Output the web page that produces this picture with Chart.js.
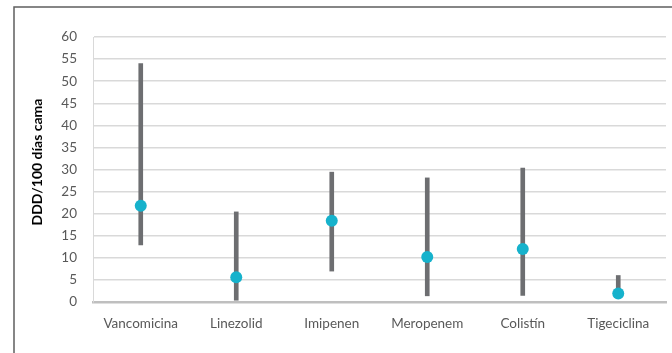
<!DOCTYPE html>
<html>
<head>
<meta charset="utf-8">
<script src="https://cdn.jsdelivr.net/npm/chart.js@4/dist/chart.umd.min.js"></script>
<style>
  html, body { margin: 0; padding: 0; background: #ffffff; overflow: hidden; }
  #wrap { width: 672px; height: 353px; position: relative; }
</style>
</head>
<body>
<div id="wrap"><canvas id="c" width="672" height="353"></canvas></div>
<script>
// Antibiotic consumption (DDD per 100 bed-days): range (min–max) and central value
const categories = ['Vancomicina', 'Linezolid', 'Imipenen', 'Meropenem', 'Colistín', 'Tigeciclina'];
const rangeLow   = [12.9, 0.4, 7.0, 1.4, 1.5, 1.9];
const rangeHigh  = [54.0, 20.4, 29.4, 28.1, 30.3, 6.0];
const central    = [21.8, 5.6, 18.4, 10.2, 12.0, 1.9];
const yTicks     = [0, 5, 10, 15, 20, 25, 30, 35, 40, 45, 50, 55, 60];
const yTitle     = 'DDD/100 días cama';

const ranges = categories.map((_, i) => [rangeLow[i], rangeHigh[i]]);

// Outer frame around the figure
const framePlugin = {
  id: 'frame',
  beforeDraw(chart) {
    const ctx = chart.ctx;
    ctx.save();
    ctx.strokeStyle = '#5f5f5f';
    ctx.lineWidth = 1.5;
    ctx.strokeRect(14, 7, 720, 420);
    ctx.restore();
  }
};

// Rotated axis title, drawn beside the value axis
const yTitlePlugin = {
  id: 'yTitle',
  afterDraw(chart) {
    const ctx = chart.ctx;
    ctx.save();
    ctx.translate(37, 162);
    ctx.rotate(-Math.PI / 2);
    ctx.fillStyle = '#000000';
    ctx.font = 'bold 14px Lato';
    ctx.textAlign = 'center';
    ctx.textBaseline = 'middle';
    ctx.fillText(yTitle, 0, 0);
    ctx.restore();
  }
};

new Chart(document.getElementById('c'), {
  data: {
    labels: categories,
    datasets: [
      {
        type: 'line',
        data: central,
        showLine: false,
        pointRadius: 6,
        pointHoverRadius: 6,
        pointBackgroundColor: '#16b2cc',
        pointBorderColor: '#16b2cc',
        pointBorderWidth: 0,
        order: 0
      },
      {
        type: 'bar',
        data: ranges,
        backgroundColor: '#6d6e71',
        borderWidth: 0,
        barThickness: 4,
        order: 1
      }
    ]
  },
  options: {
    responsive: false,
    animation: false,
    events: [],
    layout: { padding: { top: 37, right: 2, left: 21, bottom: 0 } },
    plugins: {
      legend: { display: false },
      tooltip: { enabled: false }
    },
    scales: {
      x: {
        grid: { display: false, drawTicks: false },
        border: { display: true, color: '#bfbfbf', width: 2.5 },
        ticks: {
          color: '#595959',
          font: { family: 'Lato', size: 13.5 },
          padding: 14,
          maxRotation: 0
        },
        afterFit(scale) { scale.height = 51; }
      },
      y: {
        min: 0,
        max: 60,
        afterBuildTicks(scale) { scale.ticks = yTicks.map(v => ({ value: v })); },
        grid: { color: '#d9d9d9', lineWidth: 1.5, drawTicks: false },
        border: { display: true, color: '#d9d9d9', width: 1 },
        ticks: {
          color: '#595959',
          font: { family: 'Lato', size: 13.5 },
          padding: 16
        },
        afterFit(scale) { scale.width = 72; }
      }
    }
  },
  plugins: [framePlugin, yTitlePlugin]
});
</script>
</body>
</html>
